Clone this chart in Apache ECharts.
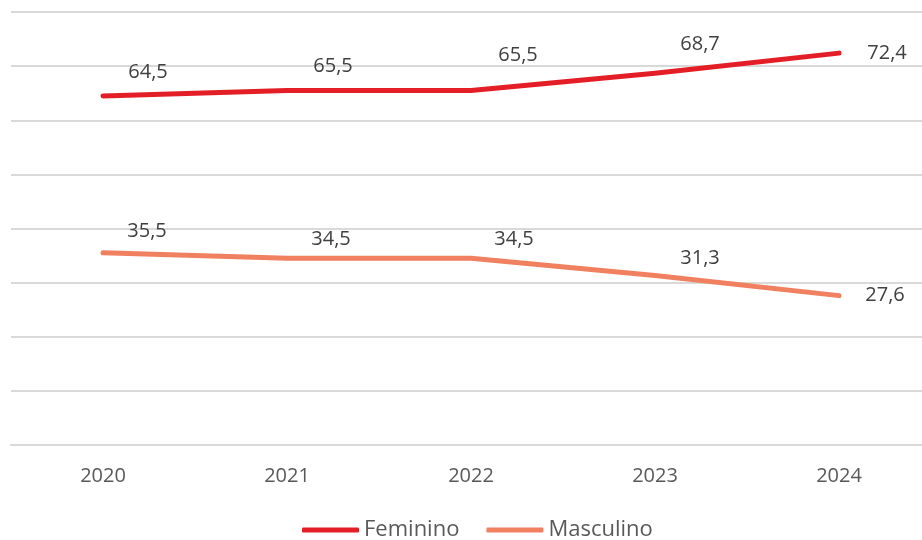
<!DOCTYPE html>
<html>
<head>
<meta charset="utf-8">
<script src="https://cdn.jsdelivr.net/npm/echarts@6/dist/echarts.min.js"></script>
<style>
  html, body { margin: 0; padding: 0; background: #fff; }
  #chart { width: 922px; height: 540px; }
</style>
</head>
<body>
<div id="chart"></div>
<script>
// data
const years = ['2020', '2021', '2022', '2023', '2024']
const feminino = [64.5, 65.5, 65.5, 68.7, 72.4]
const masculino = [35.5, 34.5, 34.5, 31.3, 27.6]

// where each value label sits relative to its point (px)
const femLabelOffsets = [[45, -24], [46, -24], [47, -35], [45, -29], [48, 0]]
const mascLabelOffsets = [[44, -22], [44, -19], [43, -19], [45, -17], [46, 0]]

const font = '"Open Sans", sans-serif'
const fmt = v => v.toFixed(1).replace('.', ',')

function buildSeries (name, values, offsets, color) {
  return {
    name: name,
    type: 'line',
    symbol: 'circle',
    symbolSize: 0,
    itemStyle: { color: color },
    lineStyle: { color: color, width: 5, cap: 'round', join: 'round' },
    label: { show: true },
    data: values.map((v, i) => ({
      value: v,
      label: {
        show: true,
        position: 'inside',
        offset: offsets[i],
        formatter: () => fmt(v),
        color: '#404040',
        fontFamily: font,
        fontSize: 20
      }
    }))
  }
}

const chart = echarts.init(document.getElementById('chart'), null, { renderer: 'canvas' })
chart.setOption({
  animation: false,
  grid: { left: 11, top: 12, width: 920, height: 433, containLabel: false, outerBoundsMode: 'none' },
  legend: {
    left: 297,
    top: 514,
    icon: 'roundRect',
    itemWidth: 57,
    itemHeight: 5,
    itemGap: 27,
    textStyle: { color: '#595959', fontFamily: font, fontSize: 22 },
    data: ['Feminino', 'Masculino']
  },
  xAxis: {
    type: 'category',
    data: years,
    boundaryGap: true,
    axisLine: { lineStyle: { color: '#d9d9d9', width: 2 } },
    axisTick: { show: false },
    axisLabel: { color: '#595959', fontFamily: font, fontSize: 20, margin: 21 }
  },
  yAxis: {
    type: 'value',
    min: 0,
    max: 80,
    interval: 10,
    axisLabel: { show: false },
    axisLine: { show: false },
    axisTick: { show: false },
    splitLine: { lineStyle: { color: '#d9d9d9', width: 2 } }
  },
  series: [
    buildSeries('Feminino', feminino, femLabelOffsets, '#e31e26'),
    buildSeries('Masculino', masculino, mascLabelOffsets, '#f08060')
  ]
})
</script>
</body>
</html>
